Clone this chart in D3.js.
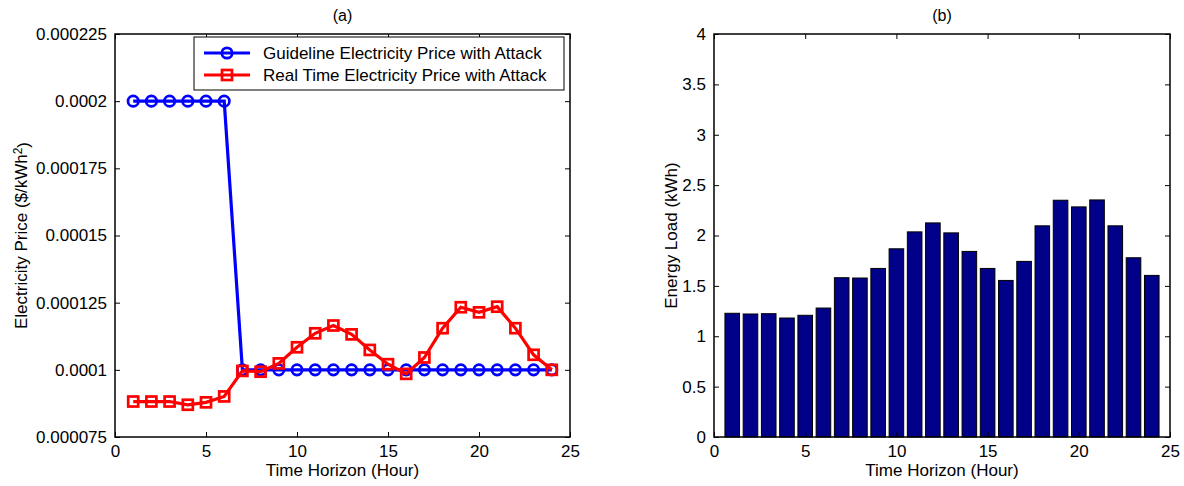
<!DOCTYPE html>
<html><head><meta charset="utf-8">
<script src="https://cdn.jsdelivr.net/npm/d3@7"></script>
<style>
html,body{margin:0;padding:0;background:#fff;}
text{font-family:"Liberation Sans",Arial,Helvetica,sans-serif;fill:#000;}
</style></head>
<body><svg id="c" width="1184" height="486"></svg>
<script>
const hours = d3.range(1, 25);
const guidelinePrice = [0.0002,0.0002,0.0002,0.0002,0.0002,0.0002,0.0001,0.0001,0.0001,0.0001,0.0001,0.0001,0.0001,0.0001,0.0001,0.0001,0.0001,0.0001,0.0001,0.0001,0.0001,0.0001,0.0001,0.0001];
const realTimePrice = [0.0000882,0.0000882,0.0000882,0.0000870,0.0000879,0.0000901,0.0000996,0.0000993,0.0001024,0.0001084,0.0001136,0.0001165,0.0001132,0.0001074,0.0001021,0.0000985,0.0001046,0.0001155,0.0001233,0.0001214,0.0001235,0.0001155,0.0001056,0.0001000];
const energyLoad = [1.228,1.221,1.224,1.181,1.208,1.280,1.581,1.578,1.673,1.868,2.036,2.125,2.026,1.842,1.673,1.554,1.743,2.096,2.350,2.284,2.353,2.096,1.779,1.604];
const xTicks = [0,5,10,15,20,25];
const priceTicks = [0.000075,0.0001,0.000125,0.00015,0.000175,0.0002,0.000225];
const priceTickLabels = ["0.000075","0.0001","0.000125","0.00015","0.000175","0.0002","0.000225"];
const loadTicks = [0,0.5,1,1.5,2,2.5,3,3.5,4];
const legendLabels = ["Guideline Electricity Price with Attack","Real Time Electricity Price with Attack"];

const svg = d3.select("#c");
const FS = 17;

function frame(g, x, y, yTicks, yFmt, L, R, T, B) {
  g.append("g").attr("transform",`translate(0,${B})`)
    .call(d3.axisBottom(x).tickValues(xTicks).tickSize(-5).tickPadding(8).tickFormat(d3.format("d")))
    .call(a=>{a.select(".domain").remove(); a.selectAll("text").attr("font-size",FS).attr("font-family","Liberation Sans, Arial, sans-serif");});
  g.append("g").attr("transform",`translate(0,${T})`)
    .call(d3.axisTop(x).tickValues(xTicks).tickSize(-5).tickFormat(""))
    .call(a=>a.select(".domain").remove());
  g.append("g").attr("transform",`translate(${L},0)`)
    .call(d3.axisLeft(y).tickValues(yTicks).tickSize(-5).tickPadding(8).tickFormat(yFmt))
    .call(a=>{a.select(".domain").remove(); a.selectAll("text").attr("font-size",FS).attr("font-family","Liberation Sans, Arial, sans-serif");});
  g.append("g").attr("transform",`translate(${R},0)`)
    .call(d3.axisRight(y).tickValues(yTicks).tickSize(-5).tickFormat(""))
    .call(a=>a.select(".domain").remove());
  g.selectAll(".tick line").attr("stroke","#000").attr("stroke-width",1);
  g.append("rect").attr("x",L).attr("y",T).attr("width",R-L).attr("height",B-T)
    .attr("fill","none").attr("stroke","#000").attr("stroke-width",1.5);
}

// ---------- (a) ----------
{
  const L=115,R=570,T=34,B=437;
  const g = svg.append("g");
  const x = d3.scaleLinear().domain([0,25]).range([L,R]);
  const y = d3.scaleLinear().domain([0.000075,0.000225]).range([B,T]);
  const fmt = d => priceTickLabels[priceTicks.findIndex(v=>Math.abs(v-d)<1e-10)];
  frame(g,x,y,priceTicks,fmt,L,R,T,B);

  const line = d3.line().x((d,i)=>x(hours[i])).y(d=>y(d));
  g.append("path").datum(guidelinePrice).attr("d",line).attr("fill","none").attr("stroke","#0000ff").attr("stroke-width",3.2);
  g.selectAll(".cm").data(guidelinePrice).enter().append("circle")
    .attr("cx",(d,i)=>x(hours[i])).attr("cy",d=>y(d)).attr("r",5.2)
    .attr("fill","none").attr("stroke","#0000ff").attr("stroke-width",2.7);
  g.append("path").datum(realTimePrice).attr("d",line).attr("fill","none").attr("stroke","#ff0000").attr("stroke-width",3.2);
  g.selectAll(".sm").data(realTimePrice).enter().append("rect")
    .attr("x",(d,i)=>x(hours[i])-5).attr("y",d=>y(d)-5).attr("width",10).attr("height",10)
    .attr("fill","none").attr("stroke","#ff0000").attr("stroke-width",2.7);

  const lg = g.append("g");
  lg.append("rect").attr("x",194).attr("y",37).attr("width",370).attr("height",53)
    .attr("fill","#fff").attr("stroke","#000").attr("stroke-width",1);
  const ly=[53,75];
  const cols=["#0000ff","#ff0000"];
  legendLabels.forEach((t,i)=>{
    lg.append("line").attr("x1",204).attr("x2",250).attr("y1",ly[i]).attr("y2",ly[i]).attr("stroke",cols[i]).attr("stroke-width",3.2);
    if(i===0) lg.append("circle").attr("cx",227).attr("cy",ly[i]).attr("r",5.2).attr("fill","none").attr("stroke",cols[i]).attr("stroke-width",2.7);
    else lg.append("rect").attr("x",222).attr("y",ly[i]-5).attr("width",10).attr("height",10).attr("fill","none").attr("stroke",cols[i]).attr("stroke-width",2.7);
    lg.append("text").attr("x",263).attr("y",ly[i]).attr("dy","0.36em").attr("font-size",FS).text(t);
  });

  g.append("text").attr("x",(L+R)/2).attr("y",21).attr("text-anchor","middle").attr("font-size",FS-1).text("(a)");
  g.append("text").attr("x",(L+R)/2).attr("y",476).attr("text-anchor","middle").attr("font-size",FS).text("Time Horizon (Hour)");
  const yl = g.append("text").attr("transform",`translate(27,${(T+B)/2}) rotate(-90)`).attr("text-anchor","middle").attr("font-size",FS);
  yl.append("tspan").text("Electricity Price ($/kWh");
  yl.append("tspan").attr("dy","-0.45em").attr("font-size",FS*0.7).text("2");
  yl.append("tspan").attr("dy","0.45em").text(")");
}

// ---------- (b) ----------
{
  const L=714,R=1170,T=34,B=437;
  const g = svg.append("g");
  const x = d3.scaleLinear().domain([0,25]).range([L,R]);
  const y = d3.scaleLinear().domain([0,4]).range([B,T]);
  const bw = (x(1)-x(0))*0.8;
  g.selectAll(".bar").data(energyLoad).enter().append("rect")
    .attr("x",(d,i)=>x(hours[i])-bw/2).attr("y",d=>y(d)).attr("width",bw).attr("height",d=>B-y(d))
    .attr("fill","#000088").attr("stroke","#000").attr("stroke-width",1);
  frame(g,x,y,loadTicks,d3.format("~g"),L,R,T,B);
  g.append("text").attr("x",(L+R)/2).attr("y",21).attr("text-anchor","middle").attr("font-size",FS-1).text("(b)");
  g.append("text").attr("x",(L+R)/2).attr("y",476).attr("text-anchor","middle").attr("font-size",FS).text("Time Horizon (Hour)");
  g.append("text").attr("transform",`translate(677,${(T+B)/2}) rotate(-90)`).attr("text-anchor","middle").attr("font-size",FS).text("Energy Load (kWh)");
}
</script></body></html>
